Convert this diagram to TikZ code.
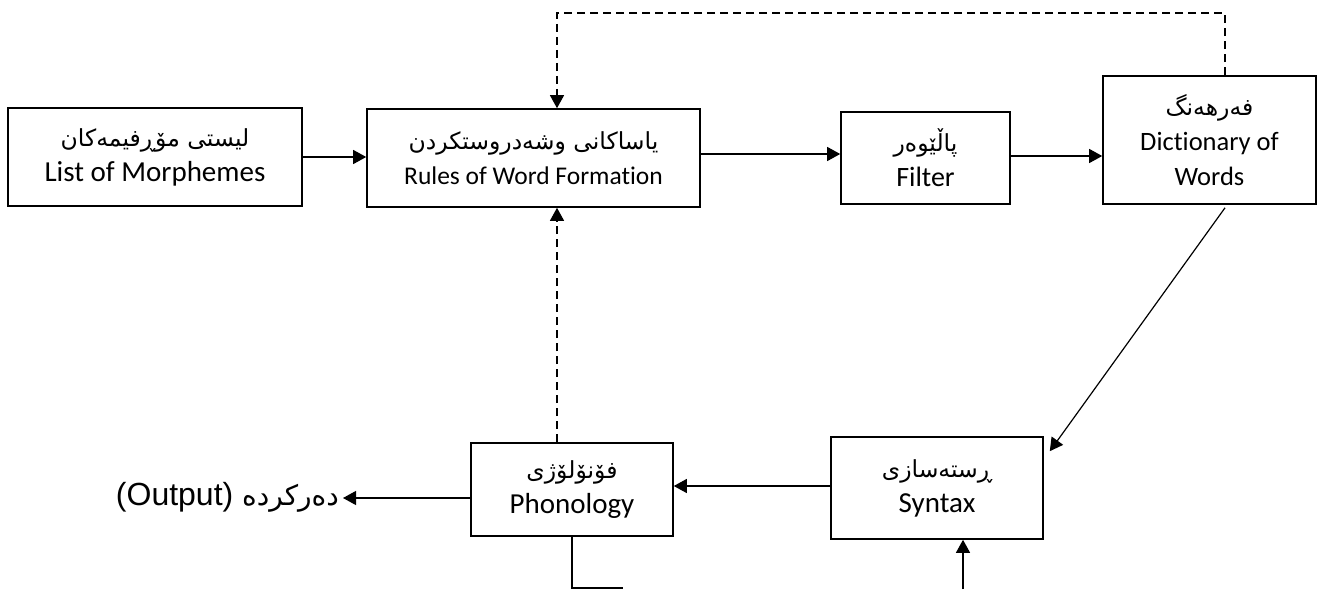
\documentclass[tikz,border=0pt]{standalone}
\usepackage{fontspec}
\setmainfont{Carlito}[Ligatures=CommonOff]
\newfontfamily\kufont[Script=Arabic]{DejaVu Sans}
\newfontfamily\arialf{Liberation Sans}
\TeXXeTstate=1
\usetikzlibrary{arrows.meta}
\newcommand{\ku}[1]{{\kufont\fontsize{23.5}{35}\selectfont\beginR #1\endR}}
\begin{document}
\begin{tikzpicture}[x=1pt,y=-1pt,
  box/.style={draw=black, line width=1.6pt, inner sep=0pt, align=center,
    font=\fontsize{28}{35}\selectfont},
  conn/.style={line width=1.2pt, -{Triangle[length=13pt,width=14pt]}},
  plain/.style={line width=1.2pt},
  dash8/.style={dash pattern=on 8pt off 5pt}]
\useasboundingbox (0,0) rectangle (1317,589);
\fill[white] (0,0) rectangle (1317,589);
\node[box, minimum width=294pt, minimum height=98pt] (b1) at (155,157)
  {\ku{لیستی مۆڕفیمەکان}\\ {\fontsize{29}{35}\selectfont List of Morphemes}};
\node[box, minimum width=333pt, minimum height=98pt] (b2) at (533.5,158)
  {\ku{یاساکانی وشەدروستکردن}\\ {\fontsize{25.5}{35}\selectfont Rules of Word Formation}};
\node[box, minimum width=169pt, minimum height=92pt] (flt) at (925.5,158)
  {\ku{پاڵێوەر}\\ {\fontsize{28}{35}\selectfont Filter}};
\node[box, minimum width=213pt, minimum height=128pt] (dict) at (1209.5,140)
  {\ku{فەرهەنگ}\\ {\fontsize{26.5}{37}\selectfont Dictionary of}\\ {\fontsize{26.5}{37}\selectfont Words}};
\node[box, minimum width=212pt, minimum height=102pt] (syn) at (937,488)
  {\ku{ڕستەسازی}\\ {\fontsize{29}{37}\selectfont Syntax}};
\node[box, minimum width=202pt, minimum height=93pt] (phon) at (572,489.5)
  {\ku{فۆنۆلۆژی}\\ {\fontsize{29}{37}\selectfont Phonology}};
\node[anchor=east, inner xsep=4pt, inner ysep=0pt] (out) at (343,497)
  {\arialf\fontsize{32}{38}\selectfont (Output) {\kufont\fontsize{28}{38}\selectfont\beginR دەرکردە\endR}};
\coordinate (top) at (557,13);
\coordinate (bot) at (963,589);
\coordinate (pb) at (623,588);
% connectors
\draw[conn] (b1.east) -- (b1.east -| b2.west);
\draw[conn] ([yshift=4pt]b2.east) -- ([yshift=4pt]b2.east -| flt.west);
\draw[conn] ([yshift=2pt]flt.east) -- ([yshift=2pt]flt.east -| dict.west);
\draw[conn, dash8] ([xshift=15.5pt]dict.north) |- (top) -- (top |- b2.north);
\draw[conn, dash8] ([xshift=-15pt]phon.north) -- ([xshift=-15pt]phon.north |- b2.south);
\draw[conn] ([xshift=15.5pt,yshift=-3pt]dict.south) -- ([xshift=6pt,yshift=-15pt]syn.north east);
\draw[conn] ([yshift=2pt]syn.west) -- ([yshift=2pt]syn.west -| phon.east);
\draw[conn] ([yshift=-8.5pt]phon.west) -- ([yshift=-8.5pt]phon.west -| out.east);
\draw[conn] (bot) -- (bot |- syn.south);
\draw[plain] (phon.south) |- (pb);
\end{tikzpicture}
\end{document}
